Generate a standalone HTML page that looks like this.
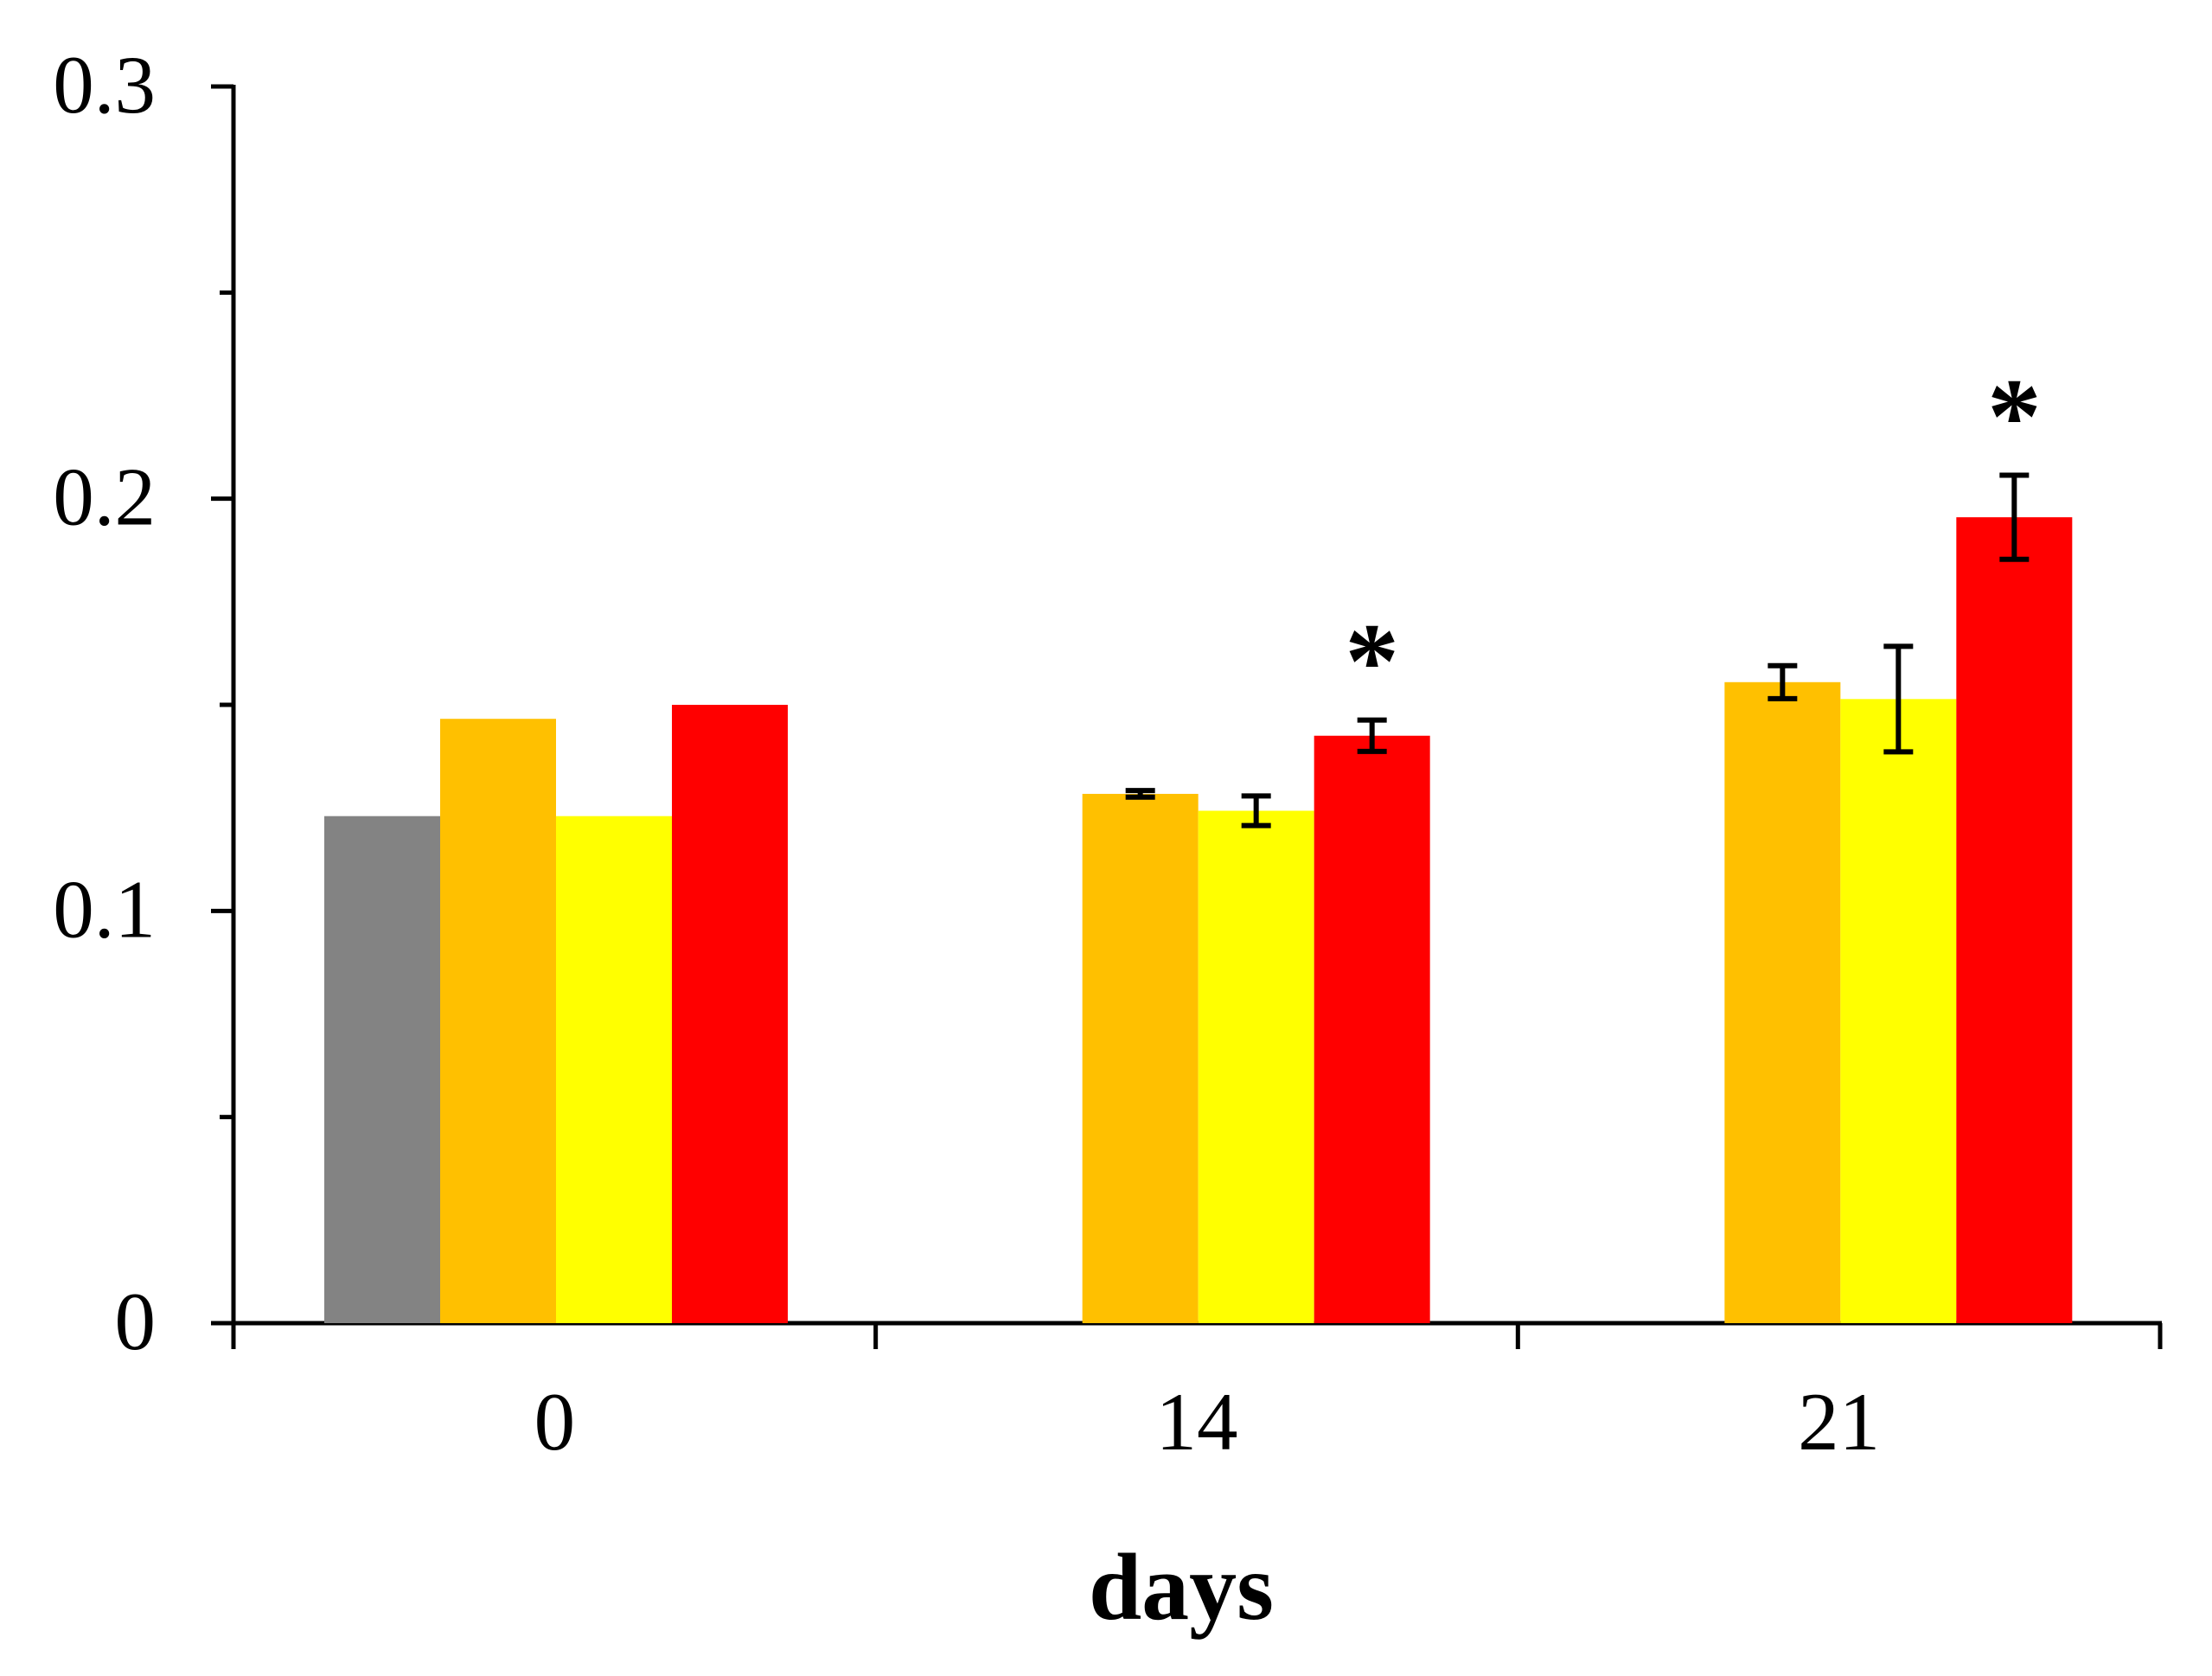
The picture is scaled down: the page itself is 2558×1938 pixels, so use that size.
<!DOCTYPE html>
<html><head><meta charset="utf-8"><style>
html,body{margin:0;padding:0;background:#fff;}
svg{display:block;}
text{font-family:"Liberation Serif",serif;fill:#000;}
</style></head><body>
<svg id="chart" width="2558" height="1938" viewBox="0 0 2558 1938" xmlns="http://www.w3.org/2000/svg">
<g id="axes"></g>
<g id="bars"></g>
<text x="1366" y="1872" font-size="110" font-weight="bold" text-anchor="middle">days</text>
</svg>
<script>
const categories = ["0","14","21"];
const seriesGray = [0.123, null, null];
const seriesOrange = [0.1466, 0.1284, 0.1555];
const seriesYellow = [0.123, 0.1243, 0.1514];
const seriesRed = [0.150, 0.1425, 0.1955];
const errGray = [0, 0, 0];
const errOrange = [0, 0.0008, 0.004];
const errYellow = [0, 0.0036, 0.0128];
const errRed = [0, 0.0038, 0.0102];
const starred = [false, true, true];
const yTicks = [0, 0.1, 0.2, 0.3];
const yTickLabels = ["0","0.1","0.2","0.3"];
const yMinor = [0.05, 0.15, 0.25];

const NS = "http://www.w3.org/2000/svg";
const X0 = 270, X1 = 2498, Y0 = 1530, Y1 = 100, YMAX = 0.3;
const catW = (X1 - X0) / categories.length;
const barW = 134, slotOffset = 105;
function y(v){ return Y0 - (v / YMAX) * (Y0 - Y1); }
function x(ci, si){ return X0 + ci * catW + slotOffset + si * barW; }
function mk(tag, attrs, parent){
  const e = document.createElementNS(NS, tag);
  for (const k in attrs) e.setAttribute(k, attrs[k]);
  parent.appendChild(e);
  return e;
}
const axes = document.getElementById('axes');
const bars = document.getElementById('bars');

const series = [
  {vals:seriesGray, err:errGray, color:'#838383', name:'gray'},
  {vals:seriesOrange, err:errOrange, color:'#FFC000', name:'orange'},
  {vals:seriesYellow, err:errYellow, color:'#FFFF00', name:'yellow'},
  {vals:seriesRed, err:errRed, color:'#FF0000', name:'red'}
];
series.forEach((s,si)=>{
  s.vals.forEach((v,ci)=>{
    if (v === null) return;
    const bx = x(ci, si);
    const r = mk('rect', {x:bx, y:y(v), width:barW, height:Y0-y(v), fill:s.color}, bars);
    
    
    const e = s.err[ci];
    if (e > 0){
      const cx = bx + barW/2;
      const g = mk('g', {stroke:'#000','stroke-width':6}, bars);
      
      
      mk('line', {x1:cx, y1:y(v+e), x2:cx, y2:y(v-e)}, g);
      mk('line', {x1:cx-17, y1:y(v+e), x2:cx+17, y2:y(v+e)}, g);
      mk('line', {x1:cx-17, y1:y(v-e), x2:cx+17, y2:y(v-e)}, g);
    }
  });
});

let l = mk('line', {x1:X0, y1:Y1-2, x2:X0, y2:Y0, stroke:'#000','stroke-width':5}, axes);


l = mk('line', {x1:X0-26, y1:Y0, x2:X1+2, y2:Y0, stroke:'#000','stroke-width':5}, axes);



yTicks.forEach((t,i)=>{
  const tk = mk('line', {x1:X0-26, y1:y(t), x2:X0, y2:y(t), stroke:'#000','stroke-width':5}, axes);
  
  
  const tx = mk('text', {x:X0-90, y:y(t)+30, 'font-size':95, 'text-anchor':'end'}, axes);
  tx.textContent = yTickLabels[i];
  
  
});
yMinor.forEach(t=>{
  const tk = mk('line', {x1:X0-16, y1:y(t), x2:X0, y2:y(t), stroke:'#000','stroke-width':5}, axes);
  
  
});
for (let i=0;i<=categories.length;i++){
  const tk = mk('line', {x1:X0+i*catW, y1:Y0, x2:X0+i*catW, y2:Y0+30, stroke:'#000','stroke-width':5}, axes);
  
  
}
categories.forEach((c,i)=>{
  const tx = mk('text', {x:X0+(i+0.5)*catW, y:1676, 'font-size':95, 'text-anchor':'middle'}, axes);
  tx.textContent = c;
  
  
});

starred.forEach((st,ci)=>{
  if (!st) return;
  const top = seriesRed[ci] + errRed[ci];
  const t = mk('text', {x:x(ci,3)+barW/2, y:y(top)-26, 'font-size':125, 'font-weight':'bold','text-anchor':'middle'}, bars);
  t.textContent = '*';
  
  
});
</script>
</body></html>
